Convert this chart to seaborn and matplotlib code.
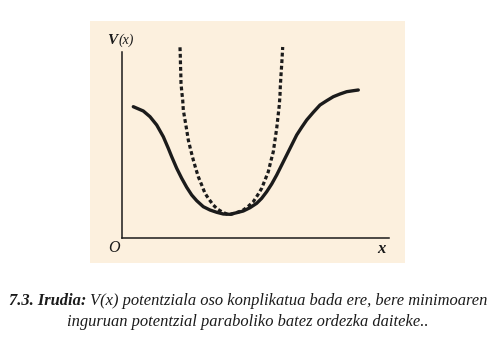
import matplotlib
matplotlib.use("Agg")
import matplotlib.pyplot as plt
import seaborn as sns
import pandas as pd

# Full potential V(x): sampled positions and values
solid_x = [1.10, 2.10, 2.77, 3.44, 4.10, 4.60, 4.94, 5.44, 5.94, 6.44,
           6.94, 7.44, 8.10, 8.77, 9.44, 10.10, 10.77, 11.44, 12.10, 12.77,
           13.44, 13.94, 14.44, 14.94, 15.44, 15.94, 16.44, 16.94, 17.44,
           17.94, 18.44, 19.10, 19.77, 20.44, 21.10, 21.77, 22.44, 23.10,
           23.60]
solid_v = [13.16, 12.73, 12.16, 11.33, 10.16, 9.00, 8.16, 7.00, 6.00, 5.10,
           4.33, 3.76, 3.16, 2.83, 2.60, 2.43, 2.40, 2.56, 2.73, 3.06,
           3.50, 4.00, 4.66, 5.43, 6.33, 7.33, 8.33, 9.33, 10.33,
           11.10, 11.83, 12.60, 13.33, 13.76, 14.16, 14.43, 14.66, 14.76,
           14.83]

# Parabolic approximation around the minimum
dash_x = [5.77, 5.80, 5.82, 5.85, 5.87, 5.95, 6.04, 6.10, 6.27, 6.44,
          6.60, 6.84, 7.10, 7.34, 7.60, 7.94, 8.27, 8.67, 9.10, 9.50,
          9.94, 10.44, 10.87, 11.60, 12.10, 12.60, 13.10, 13.54, 13.94,
          14.27, 14.60, 14.84, 15.10, 15.27, 15.44, 15.57, 15.70, 15.77,
          15.80, 15.87, 15.95, 16.04]
dash_v = [19.10, 18.23, 17.33, 16.43, 15.50, 14.63, 13.83, 12.83, 11.83,
          10.83, 9.83, 8.83, 7.83, 7.00, 6.16, 5.33, 4.50, 3.90, 3.33, 2.93,
          2.66, 2.43, 2.40, 2.63, 2.83, 3.20, 3.66, 4.33, 5.00,
          5.83, 6.66, 7.66, 8.66, 9.83, 11.00, 12.16, 13.33, 14.33,
          15.16, 16.33, 17.53, 19.13]

y_label = "(x)"
y_symbol = "V"
origin_label = "O"
x_label = "x"
caption_bold = "7.3. Irudia: "
caption_line1 = "V(x) potentziala oso konplikatua bada ere, bere minimoaren"
caption_line2 = "inguruan potentzial paraboliko batez ordezka daiteke.."

sns.set_theme(style="white")
plt.rcParams["font.family"] = ["Liberation Serif", "DejaVu Serif"]

ink = "#1b1b1b"
panel = "#FCF0DE"

fig = plt.figure(figsize=(4.96, 3.39), dpi=100)
fig.patch.set_facecolor("white")
ax = fig.add_axes([90 / 496, 76 / 339, 315 / 496, 242 / 339])
ax.set_facecolor(panel)

solid = pd.DataFrame({"x": solid_x, "V": solid_v})
approx = pd.DataFrame({"x": dash_x, "V": dash_v})

sns.lineplot(data=solid, x="x", y="V", sort=False, estimator=None,
             color=ink, linewidth=2.4, ax=ax)
sns.lineplot(data=approx, x="x", y="V", sort=False, estimator=None,
             color=ink, linewidth=2.3, ax=ax)
ax.lines[-1].set_dashes((1.2, 0.85))
for ln in ax.lines:
    ln.set_solid_capstyle("round")
    ln.set_solid_joinstyle("round")
ax.lines[-1].set_dash_capstyle("butt")

ax.set_xlim(-3.23, 28.27)
ax.set_ylim(-2.47, 21.73)
ax.set_xlabel("")
ax.set_ylabel("")
ax.set_xticks([])
ax.set_yticks([])

for side in ("top", "right"):
    ax.spines[side].set_visible(False)
ax.spines["left"].set_position(("data", 0))
ax.spines["bottom"].set_position(("data", 0))
ax.spines["left"].set_bounds(0, 18.6)
ax.spines["bottom"].set_bounds(0, 26.7)
for side in ("left", "bottom"):
    ax.spines[side].set_color(ink)
    ax.spines[side].set_linewidth(1.1)

ax.text(-1.05, 19.8, y_symbol, fontsize=11, fontweight="bold",
        fontstyle="italic", ha="center", va="center", color=ink)
ax.text(0.4, 19.8, y_label, fontsize=10, fontstyle="italic",
        ha="center", va="center", color=ink)
ax.text(-0.8, -0.92, origin_label, fontsize=11.5, fontstyle="italic",
        ha="center", va="center", color=ink)
ax.text(25.87, -1.05, x_label, fontsize=12, fontweight="bold",
        fontstyle="italic", ha="center", va="center", color=ink)

# Two-line caption below the panel; first line mixes bold and italic
cap_size = 11.85
renderer = fig.canvas.get_renderer()
t_bold = fig.text(0, 1 - 301 / 339, caption_bold, fontsize=cap_size,
                  fontweight="bold", fontstyle="italic", ha="left",
                  va="center", color=ink)
t_rest = fig.text(0, 1 - 301 / 339, caption_line1, fontsize=cap_size,
                  fontstyle="italic", ha="left", va="center", color=ink)
w_bold = t_bold.get_window_extent(renderer).width
w_rest = t_rest.get_window_extent(renderer).width
start = (496 - (w_bold + w_rest)) / 2
t_bold.set_x(start / 496)
t_rest.set_x((start + w_bold) / 496)
fig.text(0.5, 1 - 322 / 339, caption_line2, fontsize=cap_size,
         fontstyle="italic", ha="center", va="center", color=ink)

fig.savefig("out.png", dpi=100, facecolor="white")
